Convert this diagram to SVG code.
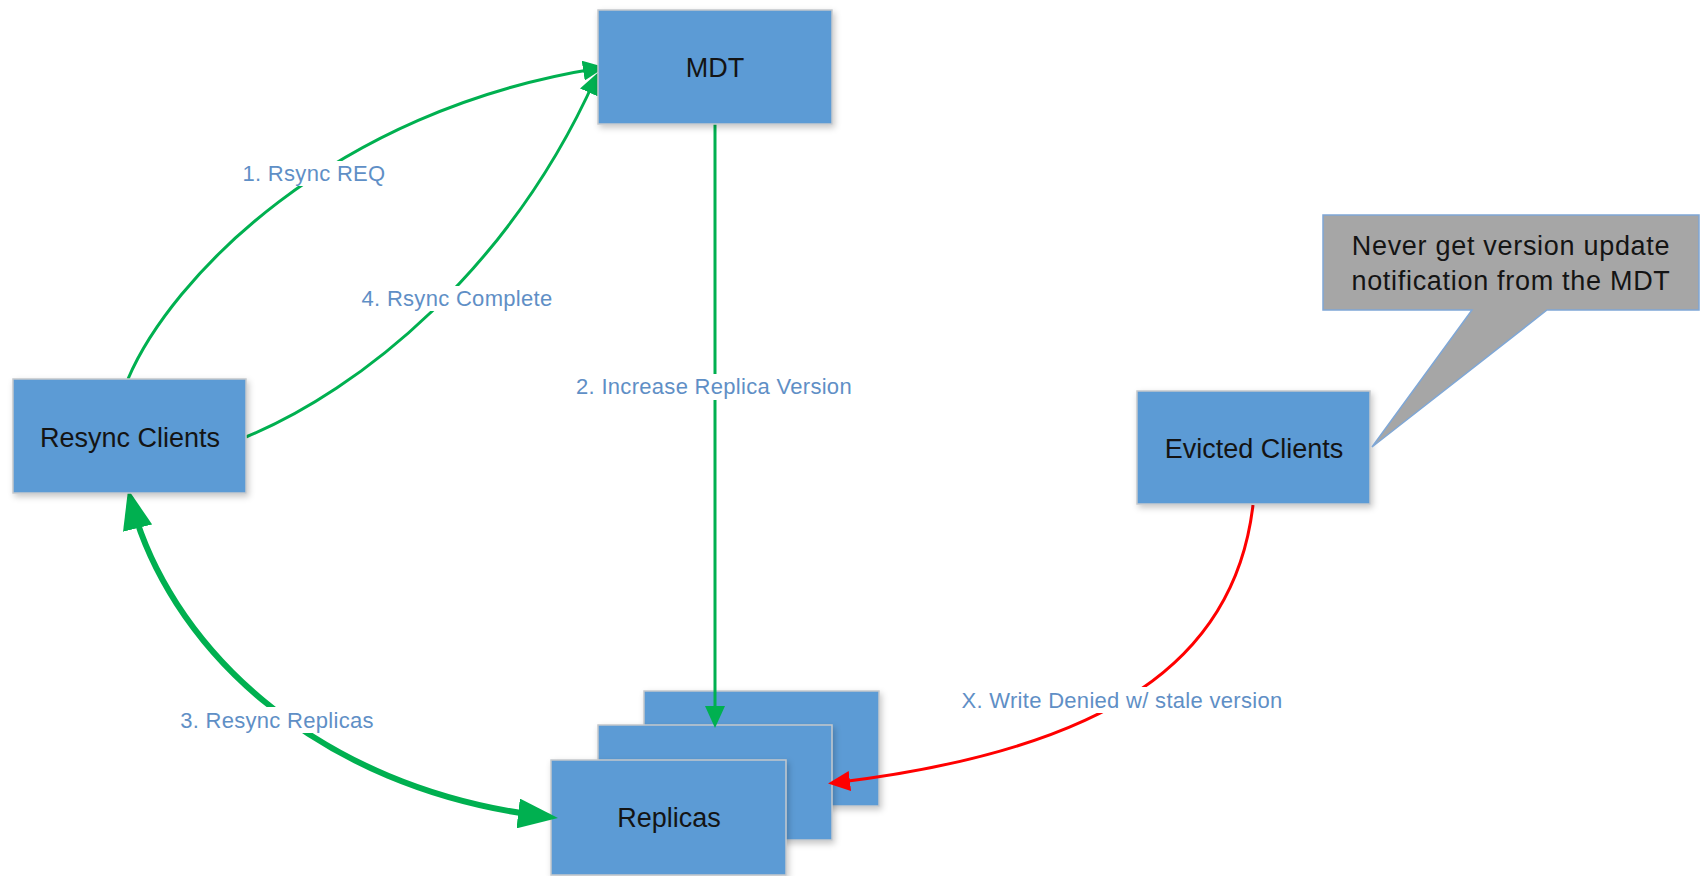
<svg xmlns="http://www.w3.org/2000/svg" width="1702" height="876" viewBox="0 0 1702 876">
<style>
.box{fill:#5b9bd5;stroke:#c4c8cc;stroke-width:1.5;filter:url(#sh)}
.bt{font-family:"Liberation Sans",Arial,sans-serif;font-size:27px;fill:#141414;text-anchor:middle}
.ct{font-family:"Liberation Sans",Arial,sans-serif;font-size:27px;letter-spacing:0.7px;fill:#141414;text-anchor:middle}
.lbl{font-family:"Liberation Sans",Arial,sans-serif;font-size:22px;letter-spacing:0.3px;fill:#5f8fc6;text-anchor:middle}
.g{fill:none;stroke:#00b050;stroke-width:3}
.gt{fill:none;stroke:#00b050;stroke-width:6}
.r{fill:none;stroke:#ff0000;stroke-width:3}
.bg{fill:#ffffff}
</style>
<defs>
<filter id="sh" x="-10%" y="-10%" width="125%" height="130%">
<feDropShadow dx="2" dy="3" stdDeviation="3" flood-color="#000" flood-opacity="0.22"/>
</filter>
<marker id="ag" markerUnits="userSpaceOnUse" viewBox="0 0 22 20" markerWidth="22" markerHeight="20" refX="17" refY="10" orient="auto">
<path d="M0,0 L22,10 L0,20 z" fill="#00b050"/>
</marker>
<marker id="agt" markerUnits="userSpaceOnUse" viewBox="0 0 40 30" markerWidth="40" markerHeight="30" refX="32" refY="15" orient="auto-start-reverse">
<path d="M0,0 L40,15 L0,30 z" fill="#00b050"/>
</marker>
<marker id="ar" markerUnits="userSpaceOnUse" viewBox="0 0 22 20" markerWidth="22" markerHeight="20" refX="17" refY="10" orient="auto">
<path d="M0,0 L22,10 L0,20 z" fill="#ff0000"/>
</marker>
</defs>

<g id="replicas">
<rect class="box" x="644" y="691" width="235" height="115"/>
<rect class="box" x="598" y="725" width="234" height="115"/>
<rect class="box" x="551" y="760" width="235" height="115"/>
<text class="bt" x="669" y="827">Replicas</text>
</g>

<g id="connectors">
<path class="g" d="M128,379 C170,280 330,110 600,68" marker-end="url(#ag)"/>
<path class="g" d="M246,437 C360,390 510,270 596,77" marker-end="url(#ag)"/>
<path class="g" d="M715,124 L715,723" marker-end="url(#ag)"/>
<path class="gt" d="M130,497 C165,640 310,790 550,817" marker-start="url(#agt)" marker-end="url(#agt)"/>
<path class="r" d="M1253,505 C1235,660 1110,750 833,783" marker-end="url(#ar)"/>
<rect class="bg" x="240" y="161" width="148" height="25"/>
<text class="lbl" x="314" y="181">1. Rsync REQ</text>
<rect class="bg" x="352" y="286" width="210" height="25"/>
<text class="lbl" x="457" y="306">4. Rsync Complete</text>
<rect class="bg" x="566" y="374" width="296" height="26"/>
<text class="lbl" x="714" y="394">2. Increase Replica Version</text>
<rect class="bg" x="175" y="707" width="205" height="26"/>
<text class="lbl" x="277" y="728">3. Resync Replicas</text>
<rect class="bg" x="945" y="687" width="355" height="26"/>
<text class="lbl" x="1122" y="708">X. Write Denied w/ stale version</text>
</g>

<g id="mdt">
<rect class="box" x="598" y="10" width="234" height="114"/>
<text class="bt" x="715" y="77">MDT</text>
</g>

<g id="resync-clients">
<rect class="box" x="13" y="379" width="233" height="114"/>
<text class="bt" x="130" y="447">Resync Clients</text>
</g>

<g id="evicted-clients">
<rect class="box" x="1137" y="391" width="233" height="113"/>
<text class="bt" x="1254" y="458">Evicted Clients</text>
</g>

<g id="callout">
<path d="M1323,215 L1699,215 L1699,310 L1547,310 L1372,447 L1472,310 L1323,310 Z" fill="#a6a6a6" stroke="#7fa7d6" stroke-width="1.5"/>
<text class="ct" x="1511" y="255">Never get version update</text>
<text class="ct" x="1511" y="290">notification from the MDT</text>
</g>
</svg>
